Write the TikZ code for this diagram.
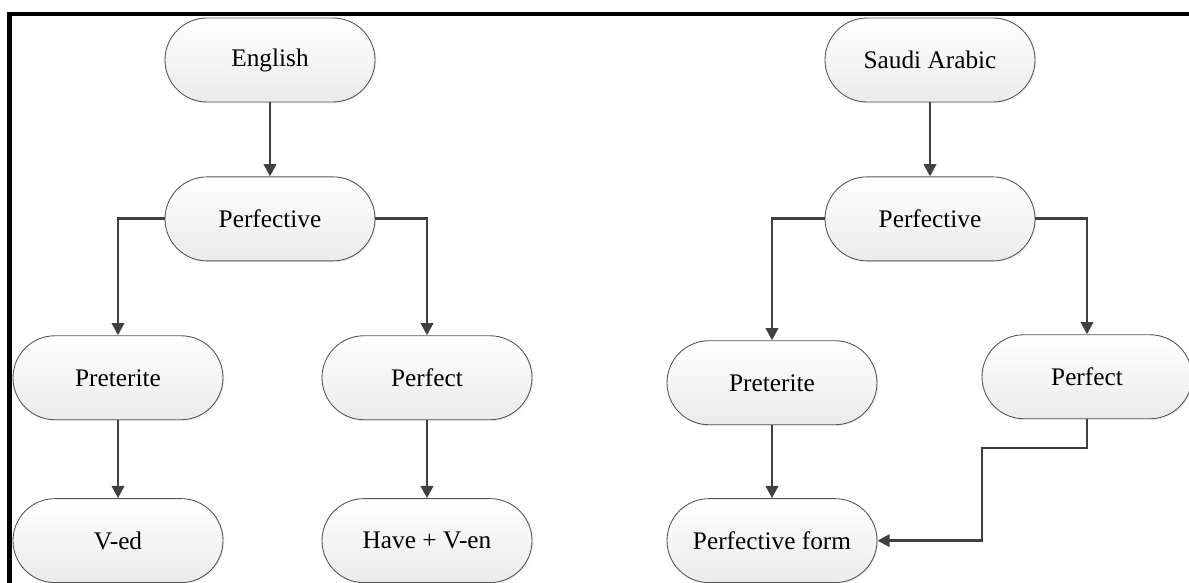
\documentclass[tikz,border=0pt]{standalone}
\usepackage{fontspec}
\setmainfont{Liberation Serif}
\newfontfamily\termfont{Liberation Serif}
\usetikzlibrary{positioning,arrows.meta,shadows}

\definecolor{linegray}{HTML}{404040}
\definecolor{edgegray}{HTML}{555555}

\begin{document}
\begin{tikzpicture}[node distance=1.48cm,
  term/.style={draw=edgegray, line width=0.5pt, rounded corners=0.84cm,
    minimum width=4.2cm, minimum height=1.68cm, top color=white, bottom color=gray!16,
    drop shadow={opacity=0.12, shadow xshift=0.8pt, shadow yshift=-0.8pt},
    font=\termfont\fontsize{14.4}{17}\selectfont},
  link/.style={-{Triangle[length=7pt,width=7pt]}, line width=1.6pt, color=linegray}]

  \useasboundingbox (0,0) rectangle (23.78,-11.66);

  % Frame
  \draw[line width=2.3pt] (0.19,-11.7) -- (0.19,-0.28) -- (23.8,-0.28);

  % English side
  \node[term] (EngTop) at (5.4,-1.2) {English};
  \node[term, below=of EngTop] (EngPerf) {Perfective};
  \node[term, below=of EngPerf, xshift=-3.04cm] (EngPret) {Preterite};
  \node[term, below=of EngPerf, xshift=3.14cm] (EngPerfect) {Perfect};
  \node[term, below=1.56cm of EngPret] (EngVed) {V-ed};
  \node[term, below=1.56cm of EngPerfect] (EngHave) {Have + V-en};

  % Saudi Arabic side
  \node[term] (SaTop) at (18.6,-1.2) {Saudi Arabic};
  \node[term, below=of SaTop] (SaPerf) {Perfective};
  \node[term, below=1.58cm of SaPerf, xshift=-3.16cm] (SaPret) {Preterite};
  \node[term, below=1.46cm of SaPerf, xshift=3.14cm] (SaPerfect) {Perfect};
  \node[term, below=1.46cm of SaPret] (SaForm) {Perfective form};
  \coordinate (SaBend) at (19.64,-8.96);

  % English arrows
  \draw[link] (EngTop.south) -- (EngPerf.north);
  \draw[link] (EngPerf.west) -| (EngPret.north);
  \draw[link] (EngPerf.east) -| (EngPerfect.north);
  \draw[link] (EngPret.south) -- (EngVed.north);
  \draw[link] (EngPerfect.south) -- (EngHave.north);

  % Saudi Arabic arrows
  \draw[link] (SaTop.south) -- (SaPerf.north);
  \draw[link] (SaPerf.west) -| (SaPret.north);
  \draw[link] (SaPerf.east) -| (SaPerfect.north);
  \draw[link] (SaPret.south) -- (SaForm.north);
  \draw[link] (SaPerfect.south) |- (SaBend) |- (SaForm.east);

\end{tikzpicture}
\end{document}
